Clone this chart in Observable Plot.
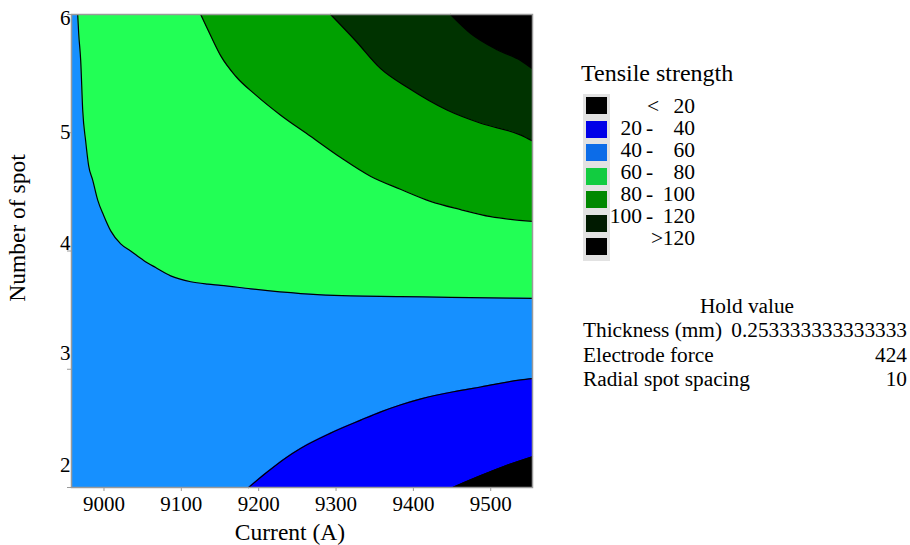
<!DOCTYPE html>
<html>
<head>
<meta charset="utf-8">
<script src="https://cdn.jsdelivr.net/npm/d3@7"></script>
<script src="https://cdn.jsdelivr.net/npm/@observablehq/plot@0.6"></script>
<style>
  html, body { margin: 0; padding: 0; background: #fff; }
  #fig { position: relative; width: 910px; height: 545px; font-family: "Liberation Serif", "Times New Roman", serif; color: #000; }
  #fig svg { position: absolute; left: 0; top: 0; }
  #fig svg, #fig svg text { font-family: "Liberation Serif", "Times New Roman", serif !important; }
  .t { position: absolute; white-space: pre; line-height: 1; }
</style>
</head>
<body>
<div id="fig"></div>
<script>
// ---- data ----
const xDomain = [8958, 9554];          // Current (A)
const yDomain = [2, 6];                // Number of spot
const xTicks = [9000, 9100, 9200, 9300, 9400, 9500];
const yTicks = [6, 5, 4, 3, 2];

// contour boundary curves: {x: current, y: number of spot}
const level20 = [
  {x: 9451, y: 2.00}, {x: 9487, y: 2.10}, {x: 9522, y: 2.19}, {x: 9554, y: 2.26}
];
const level40 = [
  {x: 9187, y: 2.00}, {x: 9209, y: 2.12}, {x: 9235, y: 2.25}, {x: 9254, y: 2.33},
  {x: 9293, y: 2.46}, {x: 9332, y: 2.57}, {x: 9358, y: 2.64}, {x: 9384, y: 2.70},
  {x: 9410, y: 2.75}, {x: 9452, y: 2.81}, {x: 9487, y: 2.85}, {x: 9539, y: 2.91},
  {x: 9554, y: 2.92}
];
const level60 = [
  {x: 8966, y: 6.00}, {x: 8967.3, y: 5.84}, {x: 8969.9, y: 5.61}, {x: 8972.5, y: 5.19},
  {x: 8976.3, y: 4.93}, {x: 8980.2, y: 4.72}, {x: 8985.4, y: 4.60}, {x: 8991.9, y: 4.43},
  {x: 8999.6, y: 4.30}, {x: 9008.7, y: 4.17}, {x: 9021.6, y: 4.06}, {x: 9034.5, y: 4.00},
  {x: 9051.3, y: 3.92}, {x: 9066.8, y: 3.86}, {x: 9086.2, y: 3.79}, {x: 9112.1, y: 3.74},
  {x: 9134.1, y: 3.72}, {x: 9150.9, y: 3.71}, {x: 9189.7, y: 3.68}, {x: 9254.3, y: 3.64},
  {x: 9319, y: 3.62}, {x: 9383.6, y: 3.615}, {x: 9448.3, y: 3.607}, {x: 9554, y: 3.60}
];
const level80 = [
  {x: 9125, y: 6.00}, {x: 9138, y: 5.82}, {x: 9151, y: 5.65}, {x: 9170, y: 5.48},
  {x: 9196, y: 5.32}, {x: 9228, y: 5.15}, {x: 9267, y: 4.97}, {x: 9306, y: 4.79},
  {x: 9345, y: 4.63}, {x: 9384, y: 4.52}, {x: 9422, y: 4.42}, {x: 9461, y: 4.35},
  {x: 9500, y: 4.29}, {x: 9554, y: 4.25}
];
const level100 = [
  {x: 9293, y: 6.00}, {x: 9325, y: 5.78}, {x: 9358, y: 5.54}, {x: 9393, y: 5.38},
  {x: 9444, y: 5.19}, {x: 9487, y: 5.08}, {x: 9539, y: 4.98}, {x: 9554, y: 4.93}
];
const level120 = [
  {x: 9448, y: 6.00}, {x: 9474, y: 5.84}, {x: 9509, y: 5.70}, {x: 9539, y: 5.61}, {x: 9554, y: 5.54}
];

// legend: lower bound, separator, upper bound
const legendLow = ["", "20", "40", "60", "80", "100", ""];
const legendSep = ["<", "-", "-", "-", "-", "-", ">"];
const legendHigh = ["20", "40", "60", "80", "100", "120", "120"];
const holdNames = ["Thickness (mm)", "Electrode force", "Radial spot spacing"];
const holdValues = ["0.253333333333333", "424", "10"];

// ---- styles ----
const colLt20 = "#000000", col20 = "#0000FF", col40 = "#1690FF", col60 = "#22FF55",
      col80 = "#00A000", col100 = "#003300", col120 = "#000000";
const legendColors = ["#000000", "#0000E8", "#0C6CE8", "#12CC40", "#008800", "#001A00", "#000000"];
const yLabelShift = [4, 0, -7.5, -16, -22];
const curve = "monotone-x";
const serif = "Liberation Serif";

const yTop = yDomain[1], yBottom = yDomain[0];

const marks = [
  Plot.frame({fill: col40}),
  Plot.areaY(level60, {x: "x", y1: "y", y2: yTop, fill: col60, curve}),
  Plot.areaY(level80, {x: "x", y1: "y", y2: yTop, fill: col80, curve}),
  Plot.areaY(level100, {x: "x", y1: "y", y2: yTop, fill: col100, curve}),
  Plot.areaY(level120, {x: "x", y1: "y", y2: yTop, fill: col120, curve}),
  Plot.areaY(level40, {x: "x", y1: yBottom, y2: "y", fill: col20, curve}),
  Plot.areaY(level20, {x: "x", y1: yBottom, y2: "y", fill: colLt20, curve}),
  ...[level20, level40, level60, level80, level100, level120].map(c =>
    Plot.line(c, {x: "x", y: "y", stroke: "#000", strokeWidth: 1.2, curve})),
  Plot.frame({stroke: "#9a9a9a", strokeWidth: 1.5}),
  Plot.axisX({ticks: xTicks, tickSize: 4, stroke: "#9a9a9a", tickFormat: () => "", label: null}),
  Plot.axisX({ticks: xTicks, tickSize: 0, tickPadding: 6, dy: 3, fill: "#000",
              label: null, tickFormat: d => String(d), fontSize: 21, fontFamily: serif}),
  Plot.axisY({ticks: yTicks, tickSize: 4, stroke: "#9a9a9a", tickFormat: () => "", label: null}),
  ...yTicks.map((t, i) => Plot.axisY({ticks: [t], tickSize: 0, tickPadding: 1, dy: yLabelShift[i],
              fill: "#000", label: null, tickFormat: d => String(d), fontSize: 21, fontFamily: serif}))
];

const chart = Plot.plot({
  width: 910,
  height: 545,
  marginLeft: 71,
  marginRight: 378,
  marginTop: 14,
  marginBottom: 58,
  x: {domain: xDomain, axis: null},
  y: {domain: yDomain, axis: null},
  style: {fontFamily: "'Liberation Serif', serif", fontSize: "21px", color: "#000", background: "transparent"},
  marks
});

const fig = document.getElementById("fig");
fig.appendChild(chart);

function addText(txt, css) {
  const d = document.createElement("div");
  d.className = "t";
  d.textContent = txt;
  Object.assign(d.style, css);
  fig.appendChild(d);
  return d;
}

// axis titles
addText("Current (A)", {left: "290px", top: "533px", transform: "translate(-50%,-50%)", fontSize: "23.5px"});
addText("Number of spot", {left: "18px", top: "228px", transform: "translate(-50%,-50%) rotate(-90deg)", fontSize: "23.5px"});

// legend
addText("Tensile strength", {left: "581px", top: "73px", transform: "translateY(-50%)", fontSize: "24px"});
const bg = document.createElement("div");
Object.assign(bg.style, {position: "absolute", left: "583px", top: "94px", width: "27px", height: "167px", background: "#e2e2e2"});
fig.appendChild(bg);
legendHigh.forEach((hi, i) => {
  const sq = document.createElement("div");
  Object.assign(sq.style, {position: "absolute", left: "586px", top: (97 + i * 23.5) + "px",
    width: "21px", height: "17px", background: legendColors[i]});
  fig.appendChild(sq);
  const cy = (107 + i * 22) + "px";
  const fs = "21.5px";
  if (legendLow[i]) addText(legendLow[i], {right: (910 - 642) + "px", top: cy, transform: "translateY(-50%)", fontSize: fs});
  const sepLeft = legendSep[i] === "<" ? 647 : legendSep[i] === ">" ? 651 : 646;
  addText(legendSep[i], {left: sepLeft + "px", top: cy, transform: "translateY(-50%)", fontSize: fs});
  addText(hi, {right: (910 - 695) + "px", top: cy, transform: "translateY(-50%)", fontSize: fs});
});

// hold values
addText("Hold value", {left: "747px", top: "307px", transform: "translate(-50%,-50%)", fontSize: "21.3px"});
holdNames.forEach((n, i) => {
  const y = 331 + i * 24.5;
  addText(n, {left: "583px", top: y + "px", transform: "translateY(-50%)", fontSize: "21.3px"});
  addText(holdValues[i], {right: (910 - 907) + "px", top: y + "px", transform: "translateY(-50%)", fontSize: "21.3px", textAlign: "right"});
});
</script>
</body>
</html>
